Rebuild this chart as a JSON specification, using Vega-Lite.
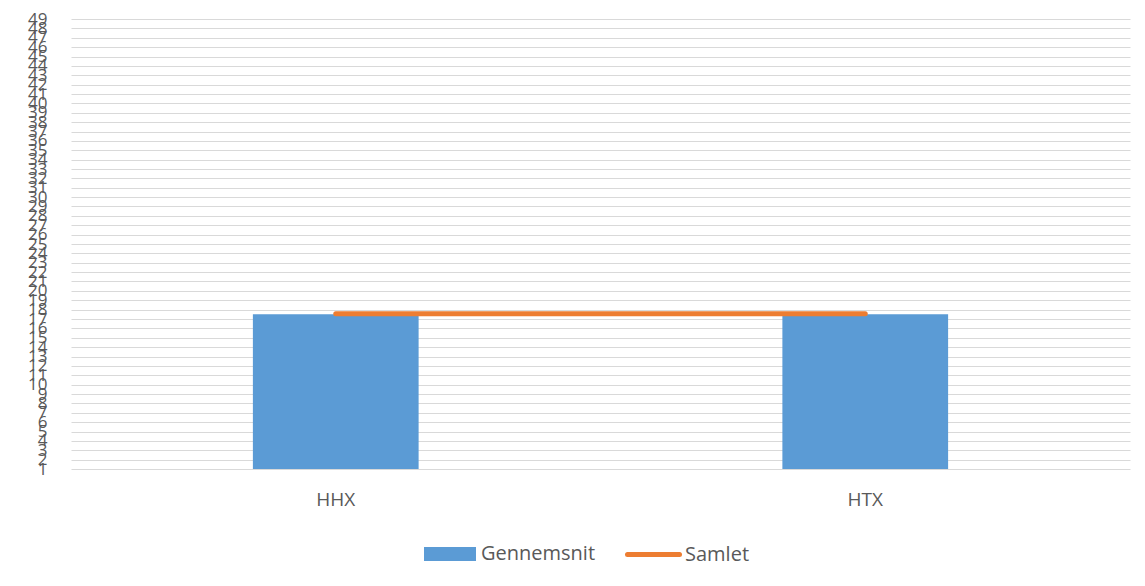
{
  "$schema": "https://vega.github.io/schema/vega-lite/v6.json",
  "width": 1059,
  "height": 450,
  "autosize": {"type": "none"},
  "padding": {"left": 71, "top": 19, "right": 15, "bottom": 117},
  "background": "white",
  "config": {
    "font": "Open Sans",
    "view": {"stroke": null},
    "axis": {"labelColor": "#595959", "labelFont": "Open Sans"}
  },
  "data": {
    "values": [
      {"skole": "HHX", "serie": "Gennemsnit", "value": 17.5},
      {"skole": "HTX", "serie": "Gennemsnit", "value": 17.5},
      {"skole": "HHX", "serie": "Samlet", "value": 17.55},
      {"skole": "HTX", "serie": "Samlet", "value": 17.55}
    ]
  },
  "encoding": {
    "x": {
      "field": "skole",
      "type": "nominal",
      "scale": {"paddingInner": 0.687, "paddingOuter": 0.3435},
      "axis": {
        "title": null,
        "labelAngle": 0,
        "labelFontSize": 19,
        "labelPadding": 21,
        "ticks": false,
        "domain": false,
        "grid": false
      }
    },
    "y": {
      "field": "value",
      "type": "quantitative",
      "scale": {"domain": [1, 49], "zero": false, "nice": false},
      "axis": {
        "title": null,
        "values": [1,2,3,4,5,6,7,8,9,10,11,12,13,14,15,16,17,18,19,20,21,22,23,24,25,26,27,28,29,30,31,32,33,34,35,36,37,38,39,40,41,42,43,44,45,46,47,48,49],
        "labelOverlap": false,
        "labelBound": false,
        "labelFlush": false,
        "labelFontSize": 17,
        "labelPadding": 24,
        "ticks": false,
        "domain": false,
        "grid": true,
        "gridColor": "#d9d9d9",
        "gridWidth": 1
      }
    }
  },
  "layer": [
    {
      "transform": [{"filter": "datum.serie === 'Gennemsnit'"}],
      "mark": {"type": "bar"},
      "encoding": {
        "y2": {"datum": 1},
        "fill": {
          "field": "serie",
          "type": "nominal",
          "scale": {"domain": ["Gennemsnit"], "range": ["#5B9BD5"]},
          "legend": {
            "title": null,
            "orient": "none",
            "direction": "horizontal",
            "legendX": 353,
            "legendY": 509,
            "labelFontSize": 20,
            "labelColor": "#595959",
            "labelFont": "Open Sans",
            "labelOffset": 5,
            "symbolSize": 2704,
            "symbolType": "M-1,-0.27H1V0.27H-1Z",
            "symbolStrokeWidth": 0,
            "symbolOpacity": 1
          }
        }
      }
    },
    {
      "transform": [{"filter": "datum.serie === 'Samlet'"}],
      "mark": {"type": "line", "strokeWidth": 5, "strokeCap": "round"},
      "encoding": {
        "stroke": {
          "datum": "Samlet",
          "scale": {"domain": ["Samlet"], "range": ["#ED7D31"]},
          "legend": {
            "title": null,
            "orient": "none",
            "direction": "horizontal",
            "legendX": 554,
            "legendY": 507,
            "labelFontSize": 20,
            "labelColor": "#595959",
            "labelFont": "Open Sans",
            "labelOffset": 3,
            "symbolSize": 2704,
            "symbolType": "stroke",
            "symbolStrokeWidth": 5,
            "symbolOpacity": 1,
            "encode": {"symbols": {"update": {"strokeCap": {"value": "round"}}}}
          }
        }
      }
    }
  ]
}
